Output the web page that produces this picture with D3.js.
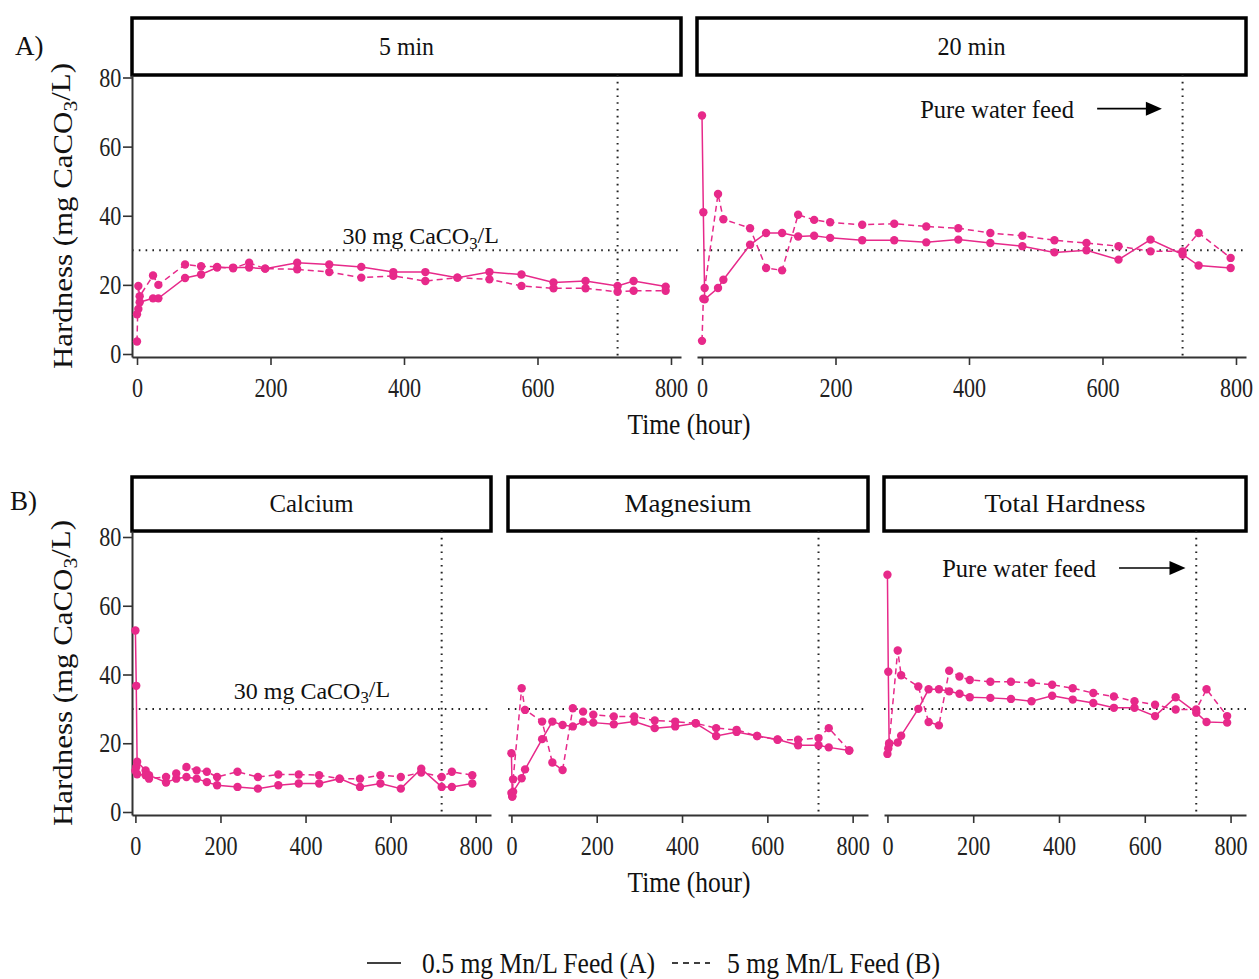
<!DOCTYPE html>
<html>
<head>
<meta charset="utf-8">
<script src="https://cdn.jsdelivr.net/npm/d3@7"></script>
<style>
body { margin: 0; background: #fff; }
</style>
</head>
<body>
<div id="container"></div>
<script>
// sampling times (hour), shared by every series
var hours = [0, 2, 4, 24, 32, 72, 96, 120, 144, 168, 192, 240, 288, 336, 384, 432, 480, 528, 576, 624, 672, 720, 744, 792];

// A) contact time panels, total hardness (mg CaCO3/L)
var min5_A  = [11.5, 13, 15, 16.1, 16.1, 22, 23, 25, 25, 25, 24.7, 26.4, 25.9, 25.2, 23.7, 23.7, 22.1, 23.7, 23, 20.7, 21.1, 19.7, 21.1, 19.5];
var min5_B  = [3.6, 19.7, 16.7, 22.7, 20, 25.9, 25.4, 25.2, 24.8, 26.4, 24.7, 24.5, 23.7, 22.1, 22.6, 21.1, 22.1, 21.6, 19.7, 19, 19, 18, 18.3, 18.3];
var min20_A = [69, 41, 15.8, 19.1, 21.5, 31.6, 35, 35, 34, 34.2, 33.6, 32.9, 32.9, 32.3, 33.1, 32.1, 31.2, 29.4, 30, 27.3, 33.1, 28.8, 25.6, 24.9];
var min20_B = [3.8, 16, 19.1, 46.3, 39, 36.4, 24.9, 24.2, 40.3, 38.8, 38.1, 37.4, 37.7, 36.9, 36.4, 35, 34.2, 32.9, 32.1, 31.2, 29.7, 29.7, 35, 27.8];

// B) hardness components
var calcium_A   = [52.8, 36.7, 14.6, 12.1, 10.7, 8.6, 9.7, 10.2, 9.7, 8.7, 7.8, 7.3, 6.8, 7.8, 8.3, 8.3, 9.7, 7.3, 8.3, 6.8, 12.6, 7.3, 7.3, 8.3];
var calcium_B   = [12, 13.1, 11, 10.7, 9.7, 10.2, 11.2, 13.1, 12.1, 11.7, 10.2, 11.7, 10.2, 10.9, 10.9, 10.7, 9.7, 9.7, 10.7, 10.2, 11.5, 10.2, 11.7, 10.7];
var magnesium_A = [17.1, 4.5, 5.9, 9.8, 12.4, 21.2, 26.3, 25.3, 24.9, 26.3, 26, 25.5, 26.3, 24.4, 24.9, 25.8, 22.1, 23.3, 22.1, 21.1, 19.4, 19.4, 18.8, 17.9];
var magnesium_B = [5.5, 4.5, 9.5, 36, 29.7, 26.3, 14.4, 12.2, 30.2, 29.2, 28.3, 27.8, 27.8, 26.6, 26.3, 25.8, 24.4, 23.9, 22.1, 21, 21, 21.5, 24.4, 17.9];
var total_A     = [69, 40.8, 19.8, 20.2, 22.2, 30, 35.7, 35.7, 35.1, 34.4, 33.4, 33.2, 32.9, 32.2, 33.8, 32.7, 31.7, 30.3, 30.3, 27.9, 33.4, 28.9, 26.2, 26];
var total_B     = [16.9, 18.5, 20, 47, 39.8, 36.5, 26.2, 25.2, 41.1, 39.4, 38.4, 37.9, 37.9, 37.6, 37, 36, 34.6, 33.6, 32.2, 31.2, 29.8, 29.8, 35.7, 27.9];

var xTicks = [0, 200, 400, 600, 800];
var yTicks = [0, 20, 40, 60, 80];
var limitValue = 30;     // 30 mg CaCO3/L guideline
var switchHour = 720;    // pure water feed starts

var pink = "#e7298a";
var serif = "'Liberation Serif', 'Times New Roman', serif";

var svg = d3.select("#container")
  .append("svg")
  .attr("width", 1259)
  .attr("height", 979);

// plain text helper, optional textLength squeezes to the condensed look
function label(x, y, str, size, anchor, width) {
  var t = svg.append("text")
    .attr("x", x)
    .attr("y", y)
    .attr("font-family", serif)
    .attr("font-size", size)
    .attr("text-anchor", anchor || "start")
    .attr("fill", "#111")
    .text(str);
  if (width) t.attr("textLength", width).attr("lengthAdjust", "spacingAndGlyphs");
  return t;
}

// text with subscript 3 in CaCO3
function caco3(t, pre, post) {
  t.text(null);
  t.append("tspan").text(pre);
  t.append("tspan").attr("font-size", "0.7em").attr("dy", "0.25em").text("3");
  t.append("tspan").attr("dy", "-0.25em").text(post);
}

function drawPanel(p) {
  var x = d3.scaleLinear().domain(p.xdom).range([p.left, p.right]);
  var y = d3.scaleLinear().domain([0, 80]).range([p.y0, p.y80]);
  y.domain([y.invert(p.bottom), y.invert(p.top)]).range([p.bottom, p.top]);

  // strip
  svg.append("rect")
    .attr("x", p.left)
    .attr("y", p.stripTop)
    .attr("width", p.right - p.left)
    .attr("height", p.top - p.stripTop)
    .attr("fill", "#fff")
    .attr("stroke", "#000")
    .attr("stroke-width", 3.5);
  label((p.left + p.right) / 2, (p.stripTop + p.top) / 2 + 8, p.title, 25.5, "middle", p.titleWidth);

  // dotted guide lines
  svg.append("line")
    .attr("x1", p.left).attr("x2", p.right)
    .attr("y1", y(limitValue)).attr("y2", y(limitValue))
    .attr("stroke", "#222").attr("stroke-width", 2)
    .attr("stroke-dasharray", "1.6,5.2");
  svg.append("line")
    .attr("x1", x(switchHour)).attr("x2", x(switchHour))
    .attr("y1", p.top).attr("y2", p.bottom)
    .attr("stroke", "#222").attr("stroke-width", 2)
    .attr("stroke-dasharray", "1.6,5.2");

  // x axis
  var gx = svg.append("g")
    .attr("transform", "translate(0," + p.bottom + ")")
    .call(d3.axisBottom(x).tickValues(xTicks).tickSize(8).tickSizeOuter(0).tickPadding(13))
    .attr("font-family", serif)
    .attr("font-size", 27);
  gx.select(".domain").attr("stroke", "#333").attr("stroke-width", 2);
  gx.selectAll(".tick line").attr("stroke", "#333").attr("stroke-width", 1.6);
  gx.selectAll(".tick text").attr("fill", "#222").attr("transform", "scale(0.82,1)");

  // y axis only on the first panel of each row
  if (p.showY) {
    var gy = svg.append("g")
      .attr("transform", "translate(" + p.left + ",0)")
      .call(d3.axisLeft(y).tickValues(yTicks).tickSize(9).tickSizeOuter(0).tickPadding(4))
      .attr("font-family", serif)
      .attr("font-size", 27);
    gy.select(".domain").attr("stroke", "#333").attr("stroke-width", 2);
    gy.selectAll(".tick line").attr("stroke", "#333").attr("stroke-width", 1.6);
    gy.selectAll(".tick text").attr("fill", "#222").attr("transform", "scale(0.82,1)");
  }

  var line = d3.line()
    .x(function(d) { return x(d[0]); })
    .y(function(d) { return y(d[1]); });

  [[p.a, null], [p.b, "6,4"]].forEach(function(s) {
    var pts = d3.zip(hours, s[0]);
    svg.append("path")
      .datum(pts)
      .attr("d", line)
      .attr("fill", "none")
      .attr("stroke", pink)
      .attr("stroke-width", 1.5)
      .attr("stroke-dasharray", s[1]);
    svg.append("g")
      .selectAll("circle")
      .data(pts)
      .enter()
      .append("circle")
      .attr("cx", function(d) { return x(d[0]); })
      .attr("cy", function(d) { return y(d[1]); })
      .attr("r", 4.2)
      .attr("fill", pink);
  });

  // "30 mg CaCO3/L" note
  if (p.note30) {
    var t = label(x(p.note30), y(limitValue) - p.noteGap, "", 24, "middle");
    caco3(t, "30 mg CaCO", "/L");
  }

  // pure water feed arrow
  if (p.feed) {
    var yv = y(70.7);
    label(x(p.feed[0]), yv + 8, "Pure water feed", 24.5, "middle");
    svg.append("line")
      .attr("x1", x(p.feed[1])).attr("x2", x(p.feed[2]) - 14)
      .attr("y1", yv - 1).attr("y2", yv - 1)
      .attr("stroke", "#000").attr("stroke-width", 1.6);
    var ex = x(p.feed[2]);
    svg.append("path")
      .attr("d", "M" + ex + "," + (yv - 1) + "L" + (ex - 16) + "," + (yv - 8) + "L" + (ex - 16) + "," + (yv + 6) + "Z")
      .attr("fill", "#000");
  }
}

// row A
var rowA = {stripTop: 18, top: 75, bottom: 357, y0: 354, y80: 77.5, xdom: [-7.5, 815]};
drawPanel(Object.assign({}, rowA, {left: 132, right: 681, title: "5 min", titleWidth: 55,
  a: min5_A, b: min5_B, showY: true, note30: 425, noteGap: 6}));
drawPanel(Object.assign({}, rowA, {left: 697, right: 1246, title: "20 min", titleWidth: 68,
  a: min20_A, b: min20_B, feed: [442, 592, 689]}));

// row B
var rowB = {stripTop: 477, top: 531, bottom: 815, y0: 812, y80: 537, xdom: [-8, 836]};
drawPanel(Object.assign({}, rowB, {left: 132, right: 491, title: "Calcium", titleWidth: 84,
  a: calcium_A, b: calcium_B, showY: true, note30: 415, noteGap: 10}));
drawPanel(Object.assign({}, rowB, {left: 508, right: 868, title: "Magnesium", titleWidth: 127,
  a: magnesium_A, b: magnesium_B}));
drawPanel(Object.assign({}, rowB, {left: 884, right: 1246, title: "Total Hardness", titleWidth: 161,
  a: total_A, b: total_B, feed: [307, 540, 695]}));

// row tags
label(15, 55, "A)", 27);
label(10, 510, "B)", 27);

// axis titles
label(689, 434, "Time (hour)", 30, "middle", 123);
label(689, 892, "Time (hour)", 30, "middle", 123);
[216, 673].forEach(function(cy) {
  var t = svg.append("text")
    .attr("transform", "translate(72," + cy + ") rotate(-90)")
    .attr("font-family", serif)
    .attr("font-size", 28)
    .attr("text-anchor", "middle")
    .attr("fill", "#111")
    .attr("textLength", 306)
    .attr("lengthAdjust", "spacingAndGlyphs");
  caco3(t, "Hardness (mg CaCO", "/L)");
});

// legend
svg.append("line").attr("x1", 367).attr("x2", 401).attr("y1", 963).attr("y2", 963)
  .attr("stroke", "#000").attr("stroke-width", 1.6);
label(422, 973, "0.5 mg Mn/L Feed (A)", 29, "start", 233);
svg.append("line").attr("x1", 672).attr("x2", 710).attr("y1", 963).attr("y2", 963)
  .attr("stroke", "#000").attr("stroke-width", 1.6).attr("stroke-dasharray", "6,5");
label(727, 973, "5 mg Mn/L Feed (B)", 29, "start", 213);
</script>
</body>
</html>
